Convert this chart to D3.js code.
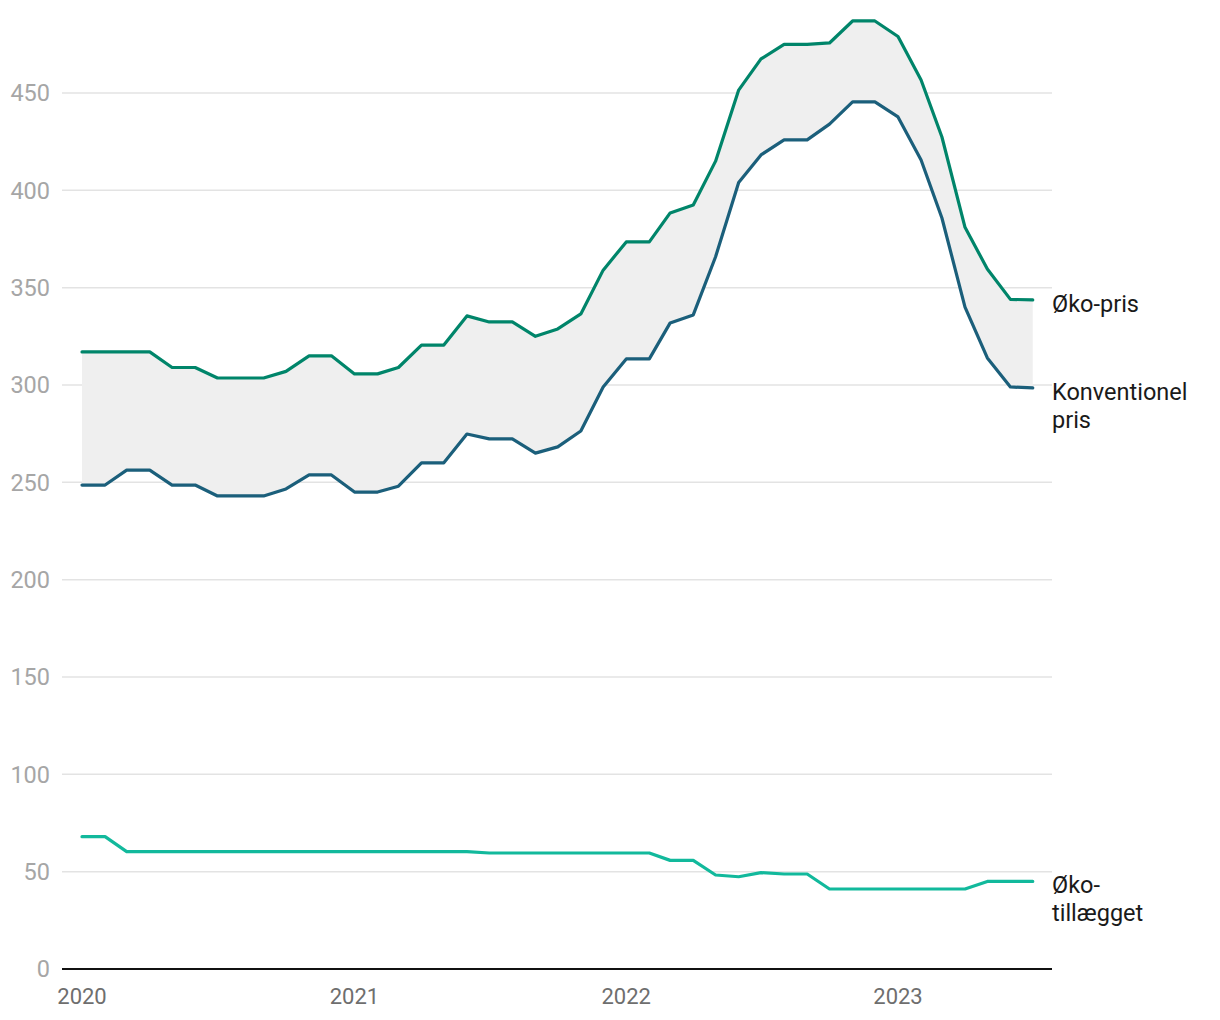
<!DOCTYPE html>
<html>
<head>
<meta charset="utf-8">
<script src="https://cdn.jsdelivr.net/npm/d3@7"></script>
<style>
  html, body { margin: 0; padding: 0; background: #fff; }
  svg { display: block; font-family: Roboto, "Noto Sans", sans-serif; }
</style>
</head>
<body>
<svg id="chart" width="1220" height="1020"></svg>
<script>
// ---- data (monthly, Jan 2020 – Jul 2023) ----
const startYear = 2020;
const okoPris = [317, 317, 317, 317, 309, 309, 303.6, 303.6, 303.6, 307, 315, 315,
  305.7, 305.7, 309, 320.5, 320.5, 335.5, 332.4, 332.4, 325, 328.8, 336.5, 359,
  373.5, 373.5, 388.4, 392.5, 415, 451.5, 467.5, 475, 475, 475.7, 487, 487,
  479, 456.7, 427.4, 381, 359.6, 344, 343.7];
const konvPris = [248.6, 248.6, 256.3, 256.3, 248.6, 248.6, 243, 243, 243, 246.6, 253.8, 253.8,
  245, 245, 248, 260, 260, 274.8, 272.3, 272.3, 265, 268.2, 276.4, 299,
  313.4, 313.4, 331.9, 336, 365.9, 404, 418.2, 425.9, 425.9, 434, 445.4, 445.4,
  437.7, 415.6, 385.8, 340, 313.9, 299, 298.5];
const okoTillaeg = [68, 68, 60.3, 60.3, 60.3, 60.3, 60.3, 60.3, 60.3, 60.3, 60.3, 60.3,
  60.3, 60.3, 60.3, 60.3, 60.3, 60.3, 59.6, 59.6, 59.6, 59.6, 59.6, 59.6,
  59.6, 59.6, 55.8, 55.8, 48.3, 47.4, 49.5, 48.8, 48.8, 41.1, 41.1, 41.1,
  41.1, 41.1, 41.1, 41.1, 45, 45, 45];
const yTicks = [0, 50, 100, 150, 200, 250, 300, 350, 400, 450];
const xTickYears = [2020, 2021, 2022, 2023];
const seriesLabels = {
  oko: ["Øko-pris"],
  konv: ["Konventionel", "pris"],
  till: ["Øko-", "tillægget"]
};

const colors = { oko: "#00856a", konv: "#1b5f7b", till: "#12b99c", band: "#efefef", grid: "#e3e3e3" };

const dates = okoPris.map((_, i) => new Date(startYear, i, 1));
const rows = dates.map((d, i) => ({ d, oko: okoPris[i], konv: konvPris[i], till: okoTillaeg[i] }));

const svg = d3.select("#chart");
const plotLeft = 62, plotRight = 1052;

const x = d3.scaleTime()
  .domain([new Date(2020, 0, 1), new Date(2023, 0, 1)])
  .range([82, 898]);
const y = d3.scaleLinear().domain([0, 450]).range([969, 93]);

// gridlines
svg.append("g").selectAll("line").data(yTicks.filter(t => t > 0)).join("line")
  .attr("x1", plotLeft).attr("x2", plotRight)
  .attr("y1", d => y(d)).attr("y2", d => y(d))
  .attr("stroke", colors.grid).attr("stroke-width", 1.5);

// y labels
svg.append("g").selectAll("text").data(yTicks).join("text")
  .attr("x", 50).attr("y", d => y(d)).attr("dy", "0.36em")
  .attr("text-anchor", "end").attr("fill", "#a6a6a6")
  .attr("font-size", 23.5).text(d => d);

// band
const area = d3.area().x(d => x(d.d)).y0(d => y(d.konv)).y1(d => y(d.oko));
svg.append("path").datum(rows).attr("d", area).attr("fill", colors.band);

// lines
const mk = key => d3.line().x(d => x(d.d)).y(d => y(d[key]));
["till", "konv", "oko"].forEach(k => {
  svg.append("path").datum(rows).attr("d", mk(k))
    .attr("fill", "none").attr("stroke", colors[k]).attr("stroke-width", 3.2)
    .attr("stroke-linejoin", "round").attr("stroke-linecap", "round");
});

// baseline
svg.append("line").attr("x1", plotLeft).attr("x2", plotRight)
  .attr("y1", y(0)).attr("y2", y(0)).attr("stroke", "#111").attr("stroke-width", 2);

// x axis labels
svg.append("g").selectAll("text").data(xTickYears).join("text")
  .attr("x", d => x(new Date(d, 0, 1))).attr("y", 1004)
  .attr("text-anchor", "middle").attr("fill", "#6e6e6e")
  .attr("font-size", 22).text(d => d);

// series labels
const last = rows[rows.length - 1];
const lab = (lines, val) => {
  const t = svg.append("text").attr("x", 1052).attr("y", y(val) + 12).attr("fill", "#1a1a1a")
    .attr("font-size", 23.5);
  lines.forEach((l, i) => t.append("tspan").attr("x", 1052).attr("dy", i === 0 ? 0 : 28).text(l));
};
lab(seriesLabels.oko, last.oko);
lab(seriesLabels.konv, last.konv);
lab(seriesLabels.till, last.till);
</script>
</body>
</html>
